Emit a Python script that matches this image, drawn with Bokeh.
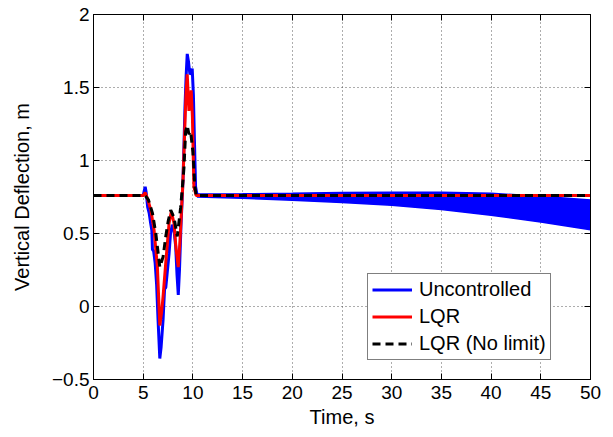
from bokeh.plotting import figure
from bokeh.models import FixedTicker, LinearAxis, Legend, LegendItem, Range1d
from bokeh.embed import file_html
from bokeh.resources import INLINE

# ---- data ----
x_ticks = [0, 5, 10, 15, 20, 25, 30, 35, 40, 45, 50]
y_ticks = [-0.5, 0, 0.5, 1, 1.5, 2]
y_tick_labels = ["\u22120.5", "0", "0.5", "1", "1.5", "2"]

t_unc = [0, 5.0, 5.1, 5.2, 5.3, 5.45, 5.6, 5.75, 5.87, 5.93, 6.05, 6.2, 6.35, 6.5,
         6.67, 6.8, 7.0, 7.15, 7.27, 7.4, 7.6, 7.75, 7.93, 8.1, 8.27, 8.4, 8.53, 8.65,
         8.8, 9.0, 9.1, 9.2, 9.32, 9.43, 9.55, 9.7, 9.82, 9.93, 10.05, 10.15, 10.27, 10.43]
y_unc = [0.76, 0.76, 0.79, 0.82, 0.78, 0.68, 0.64, 0.57, 0.52, 0.39, 0.38, 0.30, 0.15, -0.10,
         -0.356, -0.28, -0.09, 0.12, 0.13, 0.22, 0.36, 0.50, 0.56, 0.52, 0.41, 0.22, 0.08, 0.25,
         0.55, 0.86, 1.10, 1.36, 1.58, 1.73, 1.68, 1.59, 1.60, 1.63, 1.45, 1.15, 0.82, 0.76]

# envelope of the fast oscillation of the uncontrolled response after t = 10.4 s
t_band = [10.4, 15, 20, 25, 30, 35, 40, 45, 50]
upper_band = [0.77, 0.772, 0.775, 0.78, 0.783, 0.782, 0.775, 0.755, 0.73]
lower_band = [0.75, 0.742, 0.728, 0.712, 0.693, 0.665, 0.625, 0.578, 0.525]

t_lqr = [0, 5.0, 5.2, 5.43, 5.77, 6.1, 6.43, 6.67, 6.85, 7.0, 7.27, 7.6, 7.83, 8.1, 8.3,
         8.53, 8.7, 8.87, 9.0, 9.15, 9.3, 9.43, 9.6, 9.83, 9.95, 10.1, 10.33, 50]
y_lqr = [0.76, 0.76, 0.78, 0.74, 0.66, 0.52, 0.27, -0.13, -0.04, 0.07, 0.30, 0.57, 0.65, 0.57, 0.40,
         0.27, 0.45, 0.68, 0.86, 1.15, 1.45, 1.59, 1.34, 1.48, 1.30, 0.82, 0.76, 0.76]

t_nolim = [0, 5.2, 5.53, 5.93, 6.27, 6.67, 7.0, 7.27, 7.53, 7.77, 8.1, 8.43, 8.77, 9.0, 9.1,
           9.27, 9.43, 9.6, 9.77, 10.0, 10.2, 10.33, 50]
y_nolim = [0.76, 0.76, 0.73, 0.64, 0.50, 0.27, 0.34, 0.48, 0.59, 0.66, 0.61, 0.48, 0.68, 0.865, 0.95,
           1.20, 1.24, 1.18, 1.20, 1.06, 0.82, 0.76, 0.76]

FONT = "Liberation Sans"
TICK_FS = "19px"
LABEL_FS = "20px"

p = figure(width=613, height=437, x_range=Range1d(0, 50), y_range=Range1d(-0.5, 2),
           output_backend="svg", toolbar_location=None,
           min_border_left=93, min_border_right=23, min_border_top=14, min_border_bottom=58)
p.background_fill_color = "white"
p.border_fill_color = "white"
p.outline_line_color = "black"
p.outline_line_width = 1

# grid
for g, tk in ((p.xgrid, x_ticks), (p.ygrid, y_ticks)):
    g.ticker = FixedTicker(ticks=tk)
    g.grid_line_color = "#333333"
    g.grid_line_dash = "1 3"
    g.grid_line_width = 1
    g.grid_line_alpha = 0.8

def style_axis(ax, labels=True):
    ax.axis_line_color = "black"
    ax.major_tick_line_color = "black"
    ax.major_tick_in = 6
    ax.major_tick_out = 0
    ax.minor_tick_line_color = None
    ax.major_label_text_font = FONT
    ax.major_label_text_font_size = TICK_FS
    ax.major_label_text_color = "black"
    ax.axis_label_text_font = FONT
    ax.axis_label_text_font_size = LABEL_FS
    ax.axis_label_text_font_style = "normal"
    ax.axis_label_text_color = "black"
    if not labels:
        ax.major_label_text_alpha = 0
        ax.major_label_standoff = 0

xa = p.xaxis[0]
xa.ticker = FixedTicker(ticks=x_ticks)
xa.axis_label = "Time, s"
style_axis(xa)
xa.major_label_standoff = 6
xa.axis_label_standoff = 4

ya = p.yaxis[0]
ya.ticker = FixedTicker(ticks=y_ticks)
ya.major_label_overrides = {t: l for t, l in zip(y_ticks, y_tick_labels)}
ya.axis_label = "Vertical Deflection, m"
style_axis(ya)
ya.major_label_standoff = 4
ya.axis_label_standoff = 16

top = LinearAxis(ticker=FixedTicker(ticks=x_ticks))
style_axis(top, labels=False)
top.major_label_overrides = {t: "" for t in x_ticks}
p.add_layout(top, "above")
right = LinearAxis(ticker=FixedTicker(ticks=y_ticks))
style_axis(right, labels=False)
right.major_label_overrides = {t: "" for t in y_ticks}
p.add_layout(right, "right")

# data
p.varea(x=t_band, y1=lower_band, y2=upper_band, fill_color="#0000ff", fill_alpha=1.0)
r_unc = p.line(t_unc, y_unc, line_color="#0000ff", line_width=3)
p.line(t_band, upper_band, line_color="#0000ff", line_width=1.5)
p.line(t_band, lower_band, line_color="#0000ff", line_width=1.5)
r_lqr = p.line(t_lqr, y_lqr, line_color="#ff0000", line_width=3)
r_nl = p.line(t_nolim, y_nolim, line_color="black", line_width=3, line_dash="8 5")

legend = Legend(items=[LegendItem(label="Uncontrolled", renderers=[r_unc]),
                       LegendItem(label="LQR", renderers=[r_lqr]),
                       LegendItem(label="LQR (No limit)", renderers=[r_nl])],
                location=(274, 19))
legend.label_text_font = FONT
legend.label_text_font_size = LABEL_FS
legend.label_text_color = "black"
legend.border_line_color = "black"
legend.border_line_width = 1
legend.background_fill_color = "white"
legend.background_fill_alpha = 1
legend.glyph_width = 40
legend.glyph_height = 23
legend.label_height = 23
legend.label_standoff = 7
legend.spacing = 4
legend.padding = 4
legend.margin = 0
p.add_layout(legend)

open("out.html", "w").write(file_html(p, INLINE))
